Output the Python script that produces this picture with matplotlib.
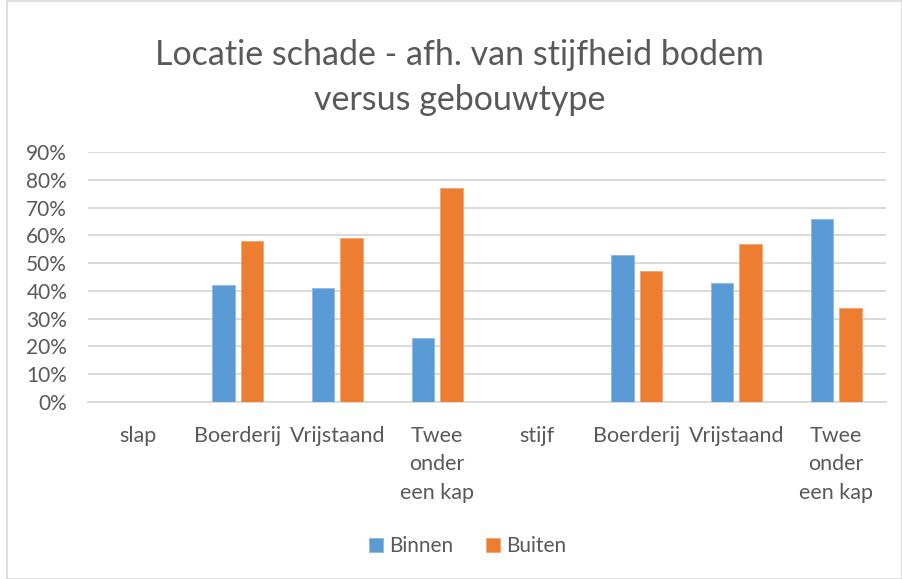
import matplotlib.pyplot as plt
import numpy as np
from matplotlib.patches import Rectangle

categories = ["slap", "Boerderij", "Vrijstaand", "Twee\nonder\neen kap",
              "stijf", "Boerderij", "Vrijstaand", "Twee\nonder\neen kap"]
binnen = [np.nan, 42, 41, 23, np.nan, 53, 43, 66]
buiten = [np.nan, 58, 59, 77, np.nan, 47, 57, 34]
yticks = [0, 10, 20, 30, 40, 50, 60, 70, 80, 90]

blue = "#5B9BD5"
orange = "#ED7D31"
grey_text = "#595959"
grid_col = "#D9D9D9"

plt.rcParams["font.family"] = ["Lato", "DejaVu Sans"]

fig = plt.figure(figsize=(9.03, 5.79), dpi=100)
ax = fig.add_axes([88 / 903, 1 - 402 / 579, 798 / 903, 250 / 579])

x = np.arange(len(categories))
w = 0.225
off = 0.143
ax.bar(x - off, binnen, w, color=blue, edgecolor="#8DB9E4", linewidth=0.6, zorder=3, label="Binnen")
ax.bar(x + off, buiten, w, color=orange, edgecolor="#F3A472", linewidth=0.6, zorder=3, label="Buiten")

ax.set_xlim(-0.5, len(categories) - 0.5)
ax.set_ylim(0, 90)
ax.set_yticks(yticks)
ax.set_yticklabels([f"{t}%" for t in yticks], fontsize=15)
ax.set_xticks(x)
ax.set_xticklabels(categories, linespacing=1.55, fontsize=15.5)
ax.tick_params(axis="both", length=0, colors=grey_text)
ax.tick_params(axis="x", pad=17)
ax.tick_params(axis="y", pad=15)
for lab in ax.get_xticklabels():
    lab.set_verticalalignment("top")

ax.yaxis.grid(True, color=grid_col, linewidth=1.4, zorder=0)
for s in ["top", "right", "left"]:
    ax.spines[s].set_visible(False)
ax.spines["bottom"].set_color(grid_col)
ax.spines["bottom"].set_linewidth(1.4)

fig.text(0.509, 1 - 55 / 579, "Locatie schade - afh. van stijfheid bodem",
         ha="center", va="center", fontsize=24.5, color=grey_text)
fig.text(0.509, 1 - 100 / 579, "versus gebouwtype",
         ha="center", va="center", fontsize=24.5, color=grey_text)

fig.legend(loc="center", bbox_to_anchor=(0.518, 1 - 546 / 579), ncol=2, frameon=False,
           fontsize=15, labelcolor=grey_text, handlelength=0.65, handleheight=0.65,
           handletextpad=0.3, columnspacing=1.6)

fig.patches.append(Rectangle((7 / 903, 0.5 / 579), 1 - 8 / 903, 1 - 1 / 579,
                             transform=fig.transFigure, fill=False,
                             edgecolor="#D9D9D9", linewidth=1.2))

fig.savefig("out.png", dpi=100, facecolor="white")
